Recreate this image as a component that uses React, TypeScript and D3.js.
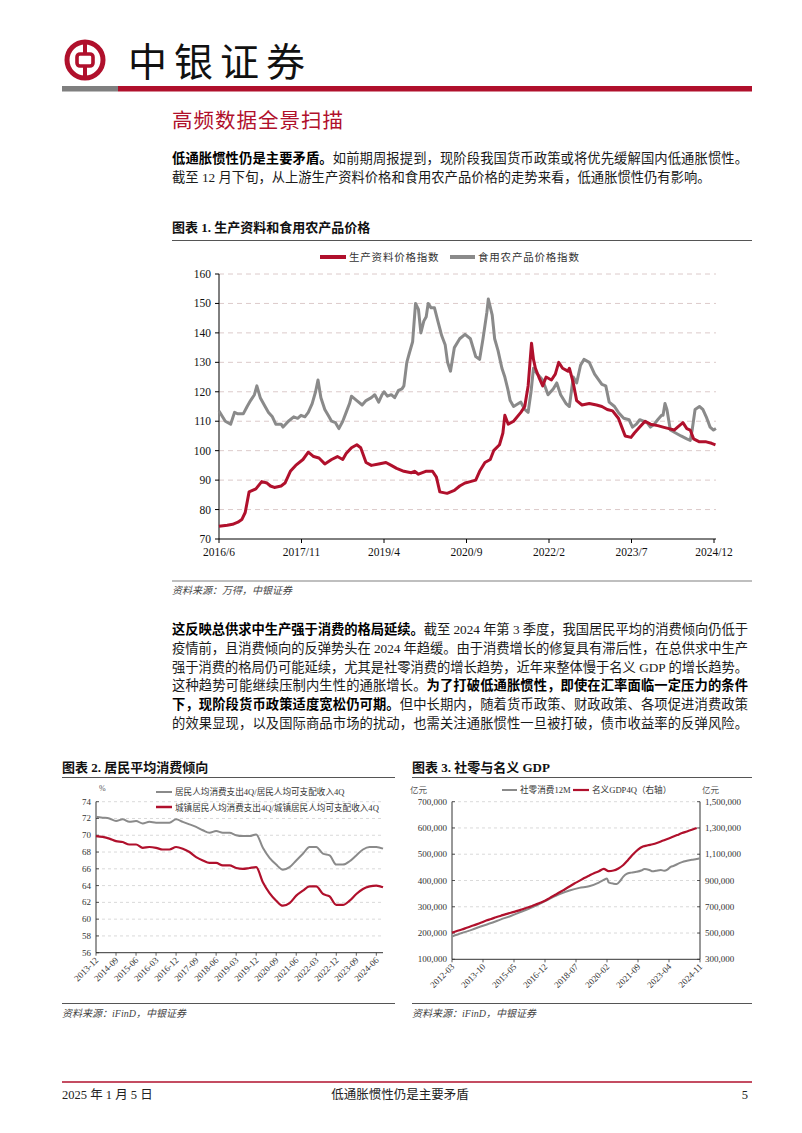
import React from 'react';
import * as d3 from 'd3';

const RED = '#b0102c';
const GRAY = '#8a8a8a';
const NUM = '"Liberation Serif", "Times New Roman", serif';
const CJK = '"Liberation Serif", "Noto Sans CJK SC", sans-serif';

// ---------- Chart 1: 生产资料和食用农产品价格 (months since 2016/6) ----------
const c1TickMonths = [0, 17, 34, 51, 68, 85, 102];
const c1TickLabels = ['2016/6', '2017/11', '2019/4', '2020/9', '2022/2', '2023/7', '2024/12'];
const c1YTicks = [70, 80, 90, 100, 110, 120, 130, 140, 150, 160];

const prodMonths = [0, 1.7, 2.8, 3.9, 4.7, 5.4, 6.2, 7.6, 8.8, 9.9, 10.6, 11.4, 12.8, 13.6, 14.7, 15.8, 17.3, 18.4, 19.5, 20.6, 21.8, 23.2, 24.4, 25.5, 26.2, 27.3, 28.4, 29.2, 30.3, 31.4, 32.9, 34.4, 35.5, 36.6, 38.1, 39.6, 40.3, 41.1, 42.6, 44.0, 44.8, 45.5, 47.0, 48.5, 49.6, 50.7, 51.8, 52.9, 53.7, 54.8, 55.9, 56.6, 57.8, 58.5, 58.9, 59.6, 60.7, 62.2, 63.0, 63.7, 64.4, 64.8, 65.2, 65.9, 66.7, 67.4, 68.5, 69.3, 70.0, 70.8, 71.9, 72.2, 73.0, 73.7, 74.8, 76.3, 77.8, 78.9, 80.0, 81.1, 82.3, 83.0, 83.7, 84.9, 85.6, 86.7, 87.8, 88.9, 90.4, 91.5, 92.7, 93.8, 94.5, 95.6, 96.4, 97.1, 97.8, 99.0, 100.4, 101.5, 102.3];
const prodValues = [74.3, 74.7, 75, 75.7, 76.6, 79, 86, 87, 89.5, 89, 88, 87.5, 88, 89, 93, 95, 97, 99.5, 98, 97.5, 95.5, 97, 98, 97, 99, 101, 102, 101, 96, 95, 95.5, 96, 95, 94, 93, 92.5, 93, 92, 93, 93, 91, 86, 85.5, 86.5, 88, 89, 89.5, 90, 93, 96, 97, 100, 102, 106, 112, 109, 110, 113, 115, 122, 136.5, 131, 128, 125, 122, 125, 124, 126, 130, 128, 127, 128, 123, 117, 115.5, 116, 115.5, 115, 114, 113.5, 111, 108, 105, 104.5, 106, 108, 110, 109, 108.5, 108, 107.5, 107, 108, 109.5, 107.5, 107, 104, 103, 103, 102.5, 102];

const foodMonths = [0, 1.3, 2.4, 3.2, 3.9, 5.0, 5.8, 6.5, 7.3, 7.8, 8.5, 9.5, 10.2, 11.0, 11.7, 12.8, 13.2, 14.3, 15.4, 16.2, 16.9, 17.7, 18.4, 19.2, 19.9, 20.4, 21.0, 21.8, 22.5, 23.2, 24.0, 24.7, 25.5, 26.2, 26.9, 27.3, 28.4, 29.5, 30.3, 31.4, 32.1, 32.9, 33.6, 34.0, 34.7, 35.5, 36.2, 37.0, 37.7, 38.1, 38.7, 39.2, 39.9, 40.5, 41.1, 41.6, 42.2, 42.7, 43.1, 43.7, 44.4, 45.1, 45.9, 46.6, 47.1, 47.7, 48.5, 49.6, 50.7, 51.8, 52.9, 53.7, 54.4, 55.2, 55.5, 56.3, 56.8, 57.5, 58.3, 58.9, 59.5, 60.0, 60.7, 62.2, 63.0, 63.7, 64.3, 64.8, 65.6, 66.7, 67.8, 68.9, 69.6, 70.4, 71.5, 72.2, 73.0, 73.7, 74.5, 75.2, 76.3, 77.4, 78.9, 79.7, 80.4, 81.5, 82.3, 83.4, 84.5, 85.2, 86.0, 86.7, 87.5, 88.2, 88.9, 89.7, 90.4, 91.2, 91.5, 91.9, 92.3, 93.0, 94.1, 95.2, 96.4, 97.1, 97.5, 98.1, 99.0, 99.7, 100.4, 101.2, 101.9, 102.4];
const foodValues = [113.5, 110, 109, 113, 112.5, 112.5, 115, 117, 119, 122, 118, 115, 113, 111.5, 109, 109, 108, 110, 111.5, 111, 112, 111.5, 113, 116, 120, 124, 118, 114, 112, 110, 109.5, 107.5, 110, 113, 116, 118.5, 117, 115.5, 117, 118, 119, 116.5, 119, 120, 118.5, 119, 118, 120.5, 121, 122, 130, 133, 137, 150, 148, 140, 144, 145.5, 150, 148.5, 148.5, 144, 139, 136, 130, 127, 135, 138, 139.5, 138, 132, 131, 138, 147, 151.5, 146, 138, 134, 128, 125, 121, 117, 115, 116.5, 114, 113, 120, 128, 126, 124, 119, 121, 123, 119, 116, 115, 125, 123, 129, 131, 130, 126, 122.5, 122, 116.5, 115, 113, 111, 110.5, 108, 109, 110.5, 110, 109.5, 108, 109, 110.5, 112, 112, 116, 114, 107, 106, 105, 104, 103.5, 107, 114, 115, 114, 111.5, 108, 107, 107.5];

// ---------- Chart 2: 居民平均消费倾向 (quarterly, 2013-12 .. 2024-09) ----------
const c2Labels = ['2013-12', '2014-09', '2015-06', '2016-03', '2016-12', '2017-09', '2018-06', '2019-03', '2019-12', '2020-09', '2021-06', '2022-03', '2022-12', '2023-09', '2024-06'];
const c2YTicks = [56, 58, 60, 62, 64, 66, 68, 70, 72, 74];
const allResidents = [72.2, 72.1, 72.0, 71.7, 71.9, 71.6, 71.7, 71.4, 71.6, 71.5, 71.5, 71.5, 71.9, 71.6, 71.3, 71.0, 70.6, 70.3, 70.5, 70.3, 70.3, 70.0, 69.9, 69.9, 70.1, 68.5, 67.3, 66.5, 65.9, 66.2, 67.0, 67.8, 68.6, 68.6, 67.8, 67.6, 66.5, 66.5, 66.9, 67.6, 68.3, 68.6, 68.6, 68.4];
const urbanResidents = [69.9, 69.8, 69.6, 69.3, 69.2, 68.9, 68.9, 68.5, 68.6, 68.5, 68.3, 68.3, 68.6, 68.4, 68.0, 67.4, 67.0, 66.7, 66.7, 66.4, 66.4, 66.1, 66.0, 66.1, 66.2, 64.4, 63.1, 62.2, 61.6, 61.9, 62.8, 63.4, 63.9, 63.9, 63.0, 62.7, 61.7, 61.7, 62.2, 63.0, 63.6, 63.9, 64.0, 63.8];

// ---------- Chart 3: 社零与名义 GDP (months since 2012-03) ----------
const c3Labels = ['2012-03', '2013-10', '2015-05', '2016-12', '2018-07', '2020-02', '2021-09', '2023-04', '2024-11'];
const c3LeftTicks = [100000, 200000, 300000, 400000, 500000, 600000, 700000];
const c3RightTicks = [300000, 500000, 700000, 900000, 1100000, 1300000, 1500000];
const retailMonths = [0, 6, 12, 19, 24, 30, 36, 42, 48, 54, 57, 60, 66, 72, 78, 84, 90, 93, 95, 96, 99, 101, 103, 105, 107, 110, 113, 116, 118, 121, 123, 125, 128, 130, 132, 134, 136, 139, 141, 144, 147, 150, 152];
const retailValues = [187000, 200000, 212000, 228000, 238000, 252000, 265000, 280000, 295000, 312000, 322000, 331000, 348000, 362000, 372000, 378000, 392000, 402000, 408000, 393000, 388000, 387000, 398000, 415000, 425000, 430000, 433000, 438000, 444000, 440000, 435000, 437000, 440000, 437000, 441000, 452000, 456000, 465000, 470000, 475000, 479000, 482000, 485000];
const gdpMonths = [0, 3, 6, 9, 12, 15, 18, 21, 24, 27, 30, 33, 36, 39, 42, 45, 48, 51, 54, 57, 60, 63, 66, 69, 72, 75, 78, 81, 84, 87, 90, 93, 96, 99, 102, 105, 108, 111, 114, 117, 120, 123, 126, 129, 132, 135, 138, 141, 144, 147, 150];
const gdpValues = [503000, 515000, 527000, 540000, 553000, 566000, 580000, 595000, 607000, 620000, 632000, 644000, 654000, 665000, 676000, 689000, 701000, 716000, 730000, 746000, 768000, 789000, 810000, 832000, 854000, 877000, 897000, 919000, 937000, 955000, 970000, 988000, 972000, 976000, 992000, 1018000, 1058000, 1100000, 1135000, 1158000, 1168000, 1176000, 1188000, 1202000, 1216000, 1231000, 1246000, 1261000, 1273000, 1286000, 1300000];

const fmt = d3.format(',');

export default function App() {
  // chart 1 scales
  const x1 = d3.scaleLinear().domain([0, 102]).range([219, 714]);
  const y1 = d3.scaleLinear().domain([70, 160]).range([539, 274]);
  const line1 = d3.line<[number, number]>().x(d => x1(d[0])).y(d => y1(d[1]));
  const prodPath = line1(d3.zip(prodMonths, prodValues) as [number, number][]) || '';
  const foodPath = line1(d3.zip(foodMonths, foodValues) as [number, number][]) || '';

  // chart 2 scales
  const x2 = d3.scaleLinear().domain([0, allResidents.length - 1]).range([96, 383]);
  const y2 = d3.scaleLinear().domain([56, 74]).range([952.7, 801.7]);
  const line2 = d3.line<number>().x((_, i) => x2(i)).y(d => y2(d)).curve(d3.curveMonotoneX);

  // chart 3 scales
  const x3 = d3.scaleLinear().domain([0, 152]).range([452, 700]);
  const y3L = d3.scaleLinear().domain([100000, 700000]).range([959.3, 801.7]);
  const y3R = d3.scaleLinear().domain([300000, 1500000]).range([959.3, 801.7]);
  const retailPath = d3.line<[number, number]>().x(d => x3(d[0])).y(d => y3L(d[1])).curve(d3.curveMonotoneX)(d3.zip(retailMonths, retailValues) as [number, number][]) || '';
  const gdpPath = d3.line<[number, number]>().x(d => x3(d[0])).y(d => y3R(d[1])).curve(d3.curveMonotoneX)(d3.zip(gdpMonths, gdpValues) as [number, number][]) || '';

  const body = { fontFamily: CJK, fontSize: 13.3, fill: '#1a1a1a' } as const;

  return (
    <svg width={802} height={1133} viewBox="0 0 802 1133" style={{ position: 'absolute', left: 0, top: 0, background: '#fff' }}>
      <rect x={0} y={0} width={802} height={1133} fill="#fff" />

      {/* Header */}
      <g>
        <circle cx={85} cy={60} r={18} fill="none" stroke={RED} strokeWidth={5} />
        <rect x={77} y={54} width={16} height={12} rx={3} fill="none" stroke={RED} strokeWidth={3.6} />
        <line x1={85} y1={42} x2={85} y2={54} stroke={RED} strokeWidth={4} />
        <line x1={85} y1={66} x2={85} y2={78} stroke={RED} strokeWidth={4} />
        <text x={128} y={76} fontFamily='"Noto Sans CJK SC", sans-serif' fontSize={39} letterSpacing={7} fill="#111">中银证券</text>
        <rect x={62} y={86} width={56} height={5.5} fill="#7f7f7f" />
        <rect x={118} y={86} width={634} height={5.5} fill={RED} />
      </g>

      {/* Section title */}
      <text x={172} y={128} fontFamily='"Noto Sans CJK SC", sans-serif' fontSize={20.5} fill={RED} letterSpacing={1}>高频数据全景扫描</text>

      {/* Paragraph 1 */}
      <text x={172} y={163} {...body} textLength={576} lengthAdjust="spacing">
        <tspan fontWeight={700} fill="#000">低通胀惯性仍是主要矛盾。</tspan>如前期周报提到，现阶段我国货币政策或将优先缓解国内低通胀惯性。
      </text>
      <text x={172} y={182} {...body}>截至 12 月下旬，从上游生产资料价格和食用农产品价格的走势来看，低通胀惯性仍有影响。</text>

      {/* Chart 1 title */}
      <text x={172} y={232} fontFamily={CJK} fontSize={13} fontWeight={700} fill="#111">图表 1. 生产资料和食用农产品价格</text>
      <line x1={172} y1={240.5} x2={752} y2={240.5} stroke="#555" strokeWidth={1} />

      {/* Chart 1 legend */}
      <line x1={320} y1={257} x2={346} y2={257} stroke={RED} strokeWidth={4} />
      <text x={349} y={261} fontFamily={CJK} fontSize={10.5} letterSpacing={0.8} fill="#333">生产资料价格指数</text>
      <line x1={450} y1={257} x2={475} y2={257} stroke={GRAY} strokeWidth={4} />
      <text x={478} y={261} fontFamily={CJK} fontSize={10.5} letterSpacing={0.8} fill="#333">食用农产品价格指数</text>

      {/* Chart 1 grid & axes */}
      {c1YTicks.filter(v => v > 70).map(v => (
        <line key={'g1' + v} x1={x1(0)} x2={716} y1={y1(v)} y2={y1(v)} stroke="#dccaca" strokeWidth={1} strokeDasharray="5,4" />
      ))}
      {c1YTicks.map(v => (
        <g key={'yt1' + v}>
          <line x1={x1(0) - 4} x2={x1(0)} y1={y1(v)} y2={y1(v)} stroke="#000" strokeWidth={1} />
          <text x={x1(0) - 8} y={y1(v) + 4} textAnchor="end" fontFamily={NUM} fontSize={11.5} fill="#111">{v}</text>
        </g>
      ))}
      <line x1={x1(0)} x2={x1(0)} y1={y1(160)} y2={y1(70)} stroke="#000" strokeWidth={1} />
      <line x1={x1(0)} x2={716} y1={y1(70)} y2={y1(70)} stroke="#000" strokeWidth={1} />
      {c1TickMonths.map((m, i) => (
        <g key={'xt1' + m}>
          <line x1={x1(m)} x2={x1(m)} y1={y1(70)} y2={y1(70) + 4} stroke="#000" strokeWidth={1} />
          <text x={x1(m)} y={556} textAnchor="middle" fontFamily={NUM} fontSize={11.5} fill="#111">{c1TickLabels[i]}</text>
        </g>
      ))}
      <path d={foodPath} fill="none" stroke={GRAY} strokeWidth={3} strokeLinejoin="round" />
      <path d={prodPath} fill="none" stroke={RED} strokeWidth={3} strokeLinejoin="round" />

      {/* Chart 1 source */}
      <line x1={172} y1={581} x2={752} y2={581} stroke="#aaa" strokeWidth={1.5} />
      <text x={172} y={594} fontFamily={CJK} fontSize={10} fontStyle="italic" fill="#444">资料来源：万得，中银证券</text>

      {/* Paragraph 2 */}
      <text x={172} y={634} {...body} textLength={576} lengthAdjust="spacing">
        <tspan fontWeight={700} fill="#000">这反映总供求中生产强于消费的格局延续。</tspan>截至 2024 年第 3 季度，我国居民平均的消费倾向仍低于
      </text>
      <text x={172} y={653} {...body} textLength={576} lengthAdjust="spacing">疫情前，且消费倾向的反弹势头在 2024 年趋缓。由于消费增长的修复具有滞后性，在总供求中生产</text>
      <text x={172} y={671.5} {...body} textLength={576} lengthAdjust="spacing">强于消费的格局仍可能延续，尤其是社零消费的增长趋势，近年来整体慢于名义 GDP 的增长趋势。</text>
      <text x={172} y={690} {...body} textLength={576} lengthAdjust="spacing">
        这种趋势可能继续压制内生性的通胀增长。<tspan fontWeight={700} fill="#000">为了打破低通胀惯性，即使在汇率面临一定压力的条件</tspan>
      </text>
      <text x={172} y={709} {...body} textLength={576} lengthAdjust="spacing">
        <tspan fontWeight={700} fill="#000">下，现阶段货币政策适度宽松仍可期。</tspan>但中长期内，随着货币政策、财政政策、各项促进消费政策
      </text>
      <text x={172} y={727.5} {...body} textLength={576} lengthAdjust="spacing">的效果显现，以及国际商品市场的扰动，也需关注通胀惯性一旦被打破，债市收益率的反弹风险。</text>

      {/* Chart 2 */}
      <text x={62} y={772} fontFamily={CJK} fontSize={13} fontWeight={700} fill="#111">图表 2. 居民平均消费倾向</text>
      <line x1={62} y1={777.5} x2={395} y2={777.5} stroke="#555" strokeWidth={1} />
      <text x={99} y={791} fontFamily={NUM} fontSize={8} fill="#555">%</text>
      <line x1={156} y1={792} x2={172} y2={792} stroke={GRAY} strokeWidth={2} />
      <text x={175} y={795} fontFamily={CJK} fontSize={8.6} fill="#333">居民人均消费支出4Q/居民人均可支配收入4Q</text>
      <line x1={156} y1={807} x2={172} y2={807} stroke={RED} strokeWidth={2.5} />
      <text x={175} y={810.5} fontFamily={CJK} fontSize={8.6} fill="#333">城镇居民人均消费支出4Q/城镇居民人均可支配收入4Q</text>
      {c2YTicks.filter(v => v > 56).map(v => (
        <line key={'g2' + v} x1={96} x2={383} y1={y2(v)} y2={y2(v)} stroke="#cfcfcf" strokeWidth={0.8} strokeDasharray="3,3" />
      ))}
      {c2YTicks.map(v => (
        <g key={'yt2' + v}>
          <line x1={96} x2={99} y1={y2(v)} y2={y2(v)} stroke="#333" strokeWidth={0.8} />
          <text x={91} y={y2(v) + 3} textAnchor="end" fontFamily={NUM} fontSize={9} fill="#333">{v}</text>
        </g>
      ))}
      <line x1={96} x2={96} y1={y2(74)} y2={y2(56)} stroke="#333" strokeWidth={1} />
      <line x1={96} x2={383} y1={y2(56)} y2={y2(56)} stroke="#333" strokeWidth={1} />
      {c2Labels.map((lab, i) => (
        <g key={'xt2' + lab}>
          <line x1={x2(i * 3)} x2={x2(i * 3)} y1={y2(56)} y2={y2(56) + 3} stroke="#333" strokeWidth={0.8} />
          <text transform={`translate(${x2(i * 3) + 3},${y2(56) + 8}) rotate(-45)`} textAnchor="end" fontFamily={NUM} fontSize={9} fill="#333">{lab}</text>
        </g>
      ))}
      <path d={line2(allResidents) || ''} fill="none" stroke={GRAY} strokeWidth={2} />
      <path d={line2(urbanResidents) || ''} fill="none" stroke={RED} strokeWidth={2.2} />
      <line x1={62} y1={1003.5} x2={395} y2={1003.5} stroke="#555" strokeWidth={1} />
      <text x={62} y={1017} fontFamily={CJK} fontSize={10} fontStyle="italic" fill="#444">资料来源：iFinD，中银证券</text>

      {/* Chart 3 */}
      <text x={412} y={772} fontFamily={CJK} fontSize={13} fontWeight={700} fill="#111">图表 3. 社零与名义 GDP</text>
      <line x1={412} y1={777.5} x2={752} y2={777.5} stroke="#555" strokeWidth={1} />
      <text x={410} y={793} fontFamily={CJK} fontSize={8.5} fill="#555">亿元</text>
      <text x={702} y={793} fontFamily={CJK} fontSize={8.5} fill="#555">亿元</text>
      <line x1={502} y1={790} x2={517} y2={790} stroke={GRAY} strokeWidth={2} />
      <text x={520} y={793} fontFamily={CJK} fontSize={8.6} fill="#333">社零消费12M</text>
      <line x1={573} y1={790} x2={589} y2={790} stroke={RED} strokeWidth={2.2} />
      <text x={592} y={793} fontFamily={CJK} fontSize={8.6} fill="#333">名义GDP4Q（右轴）</text>
      {c3LeftTicks.filter(v => v > 100000).map(v => (
        <line key={'g3' + v} x1={452} x2={700} y1={y3L(v)} y2={y3L(v)} stroke="#d0d0d0" strokeWidth={0.8} strokeDasharray="3,3" />
      ))}
      {c3LeftTicks.map(v => (
        <g key={'yl3' + v}>
          <line x1={452} x2={455} y1={y3L(v)} y2={y3L(v)} stroke="#333" strokeWidth={0.8} />
          <text x={447} y={y3L(v) + 3} textAnchor="end" fontFamily={NUM} fontSize={9} fill="#333">{fmt(v)}</text>
        </g>
      ))}
      {c3RightTicks.map(v => (
        <g key={'yr3' + v}>
          <line x1={697} x2={700} y1={y3R(v)} y2={y3R(v)} stroke="#333" strokeWidth={0.8} />
          <text x={705} y={y3R(v) + 3} textAnchor="start" fontFamily={NUM} fontSize={9} fill="#333">{fmt(v)}</text>
        </g>
      ))}
      <line x1={452} x2={452} y1={y3L(700000)} y2={y3L(100000)} stroke="#333" strokeWidth={1} />
      <line x1={700} x2={700} y1={y3L(700000)} y2={y3L(100000)} stroke="#333" strokeWidth={1} />
      <line x1={452} x2={700} y1={y3L(100000)} y2={y3L(100000)} stroke="#333" strokeWidth={1} />
      {c3Labels.map((lab, i) => (
        <g key={'xt3' + lab}>
          <line x1={x3(i * 19)} x2={x3(i * 19)} y1={y3L(100000)} y2={y3L(100000) + 3} stroke="#333" strokeWidth={0.8} />
          <text transform={`translate(${x3(i * 19) + 3},${y3L(100000) + 8}) rotate(-45)`} textAnchor="end" fontFamily={NUM} fontSize={9} fill="#333">{lab}</text>
        </g>
      ))}
      <path d={retailPath} fill="none" stroke={GRAY} strokeWidth={2} />
      <path d={gdpPath} fill="none" stroke={RED} strokeWidth={2.2} />
      <line x1={412} y1={1003.5} x2={752} y2={1003.5} stroke="#555" strokeWidth={1} />
      <text x={412} y={1017} fontFamily={CJK} fontSize={10} fontStyle="italic" fill="#444">资料来源：iFinD，中银证券</text>

      {/* Footer */}
      <line x1={62} y1={1082} x2={752} y2={1082} stroke={RED} strokeWidth={1.5} />
      <text x={62} y={1099} fontFamily={CJK} fontSize={12.5} fill="#222">2025 年 1 月 5 日</text>
      <text x={400} y={1099} textAnchor="middle" fontFamily={CJK} fontSize={12.5} fill="#222">低通胀惯性仍是主要矛盾</text>
      <text x={748} y={1099} textAnchor="end" fontFamily={CJK} fontSize={12.5} fill="#222">5</text>
    </svg>
  );
}
